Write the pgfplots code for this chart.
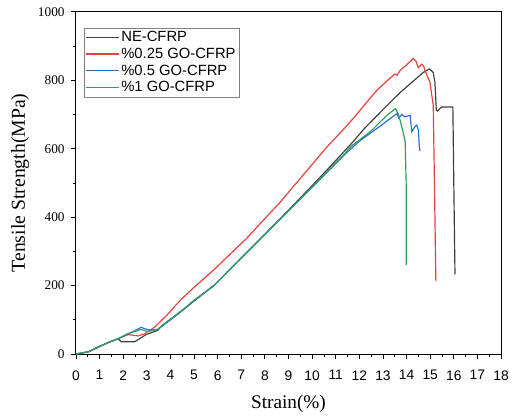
\documentclass[border=0pt]{standalone}
\usepackage{fontspec}
\setmainfont{Liberation Serif}
\newfontfamily\arial{Liberation Sans}
\usepackage{pgfplots}
\usepackage{pgfplotstable}
\pgfplotsset{compat=1.18}
\definecolor{cblack}{HTML}{404040}
\definecolor{cred}{HTML}{E8403A}
\definecolor{cblue}{HTML}{2A6FD6}
\definecolor{cgreen}{HTML}{2E9E5E}
\pgfplotstableread{
x y
0 0
0.54 7
0.96 21
1.38 34
1.79 45
1.86 40
1.92 36
2.49 36
2.97 57
3.46 69
3.6 80
4.0 100
4.5 127
5.0 155
5.82 199
6.5 246
7.21 295
8.6 392
10.0 492
10.82 552
11.65 614
12.2 658
13.04 717
13.74 765
14.71 823
14.96 833
15.05 828
15.13 823
15.2 794
15.26 713
15.32 710
15.47 722
15.96 722
16.0 500
16.05 233
}\tblack
\pgfplotstableread{
x y
0 0
0.54 7
0.96 21
1.38 34
1.79 45
2.21 57
2.63 53
2.9 59
3.32 78
3.8 110
4.43 158
5.0 195
5.82 245
6.5 290
7.21 337
8.0 396
8.6 440
9.3 497
10.0 554
10.6 603
11.24 650
11.8 693
12.3 735
12.76 772
13.2 800
13.5 818
13.6 815
13.74 830
14.0 845
14.29 864
14.4 855
14.5 837
14.64 847
14.72 842
14.78 828
14.99 794
15.13 727
15.18 500
15.24 213
}\tred
\pgfplotstableread{
x y
0 0
0.54 7
0.96 21
1.38 34
1.79 45
2.2 58
2.76 78
2.97 73
3.18 70
3.46 72
3.8 92
4.5 128
5.0 157
5.82 199
7.21 295
8.6 391
9.99 487
11.38 583
12.0 622
12.76 660
13.3 688
13.6 703
13.67 689
13.8 700
13.94 693
14.15 698
14.22 650
14.36 665
14.43 669
14.5 655
14.54 607
14.57 593
}\tblue
\pgfplotstableread{
x y
0 0
0.54 7
0.96 21
1.38 34
1.79 45
2.2 60
2.76 72
3.04 66
3.46 72
3.8 90
4.5 127
5.0 157
5.82 199
7.21 295
8.6 391
9.99 487
11.38 585
11.65 607
12.5 652
13.04 689
13.3 705
13.53 717
13.67 698
13.88 641
13.94 621
13.99 477
13.99 261
}\tgreen
\begin{document}
\begin{tikzpicture}
\begin{axis}[
  at={(0,0)}, anchor=south west,
  scale only axis, width=431pt, height=347pt,
  xmin=0, xmax=18, ymin=0, ymax=1000,
  xtick={0,1,...,18}, ytick={0,200,...,1000},
  minor x tick num=1, minor y tick num=1,
  tick align=outside, xtick pos=bottom, ytick pos=left,
  major tick length=5pt, minor tick length=3pt,
  axis line style={line width=0.9pt},
  every tick/.style={line width=0.8pt, black},
  /pgf/number format/assume math mode=true,
  /pgf/number format/1000 sep={},
  xticklabel style={font=\arial\fontsize{14}{15}\selectfont, yshift=-8pt},
  yticklabel style={font=\fontsize{13.5}{15}\selectfont, xshift=-3pt},
  xlabel={Strain(\%)}, ylabel={Tensile Strength(MPa)},
  xlabel style={font=\fontsize{19.5}{22}\selectfont, yshift=-8pt},
  ylabel style={font=\fontsize{20}{22}\selectfont, yshift=2pt},
  legend cell align=left,
  legend style={at={(axis description cs:0.0186,0.954)}, anchor=north west,
    draw=gray, line width=0.6pt, inner sep=1.5pt,
    font=\arial\fontsize{15}{16}\selectfont,
    row sep=1pt},
  legend image code/.code={\draw[#1, line width=1.2pt] (0pt,0pt) -- (33pt,0pt);},
]
\addplot[cblack, line width=1.2pt] table {\tblack};
\addlegendentry{NE-CFRP}
\addplot[cred, line width=1.2pt] table {\tred};
\addlegendentry{\%0.25 GO-CFRP}
\addplot[cblue, line width=1.2pt] table {\tblue};
\addlegendentry{\%0.5 GO-CFRP}
\addplot[cgreen, line width=1.2pt] table {\tgreen};
\addlegendentry{\%1 GO-CFRP}
\end{axis}
\path[use as bounding box] (-77pt,-62pt) rectangle (435pt,359pt);
\end{tikzpicture}
\end{document}
